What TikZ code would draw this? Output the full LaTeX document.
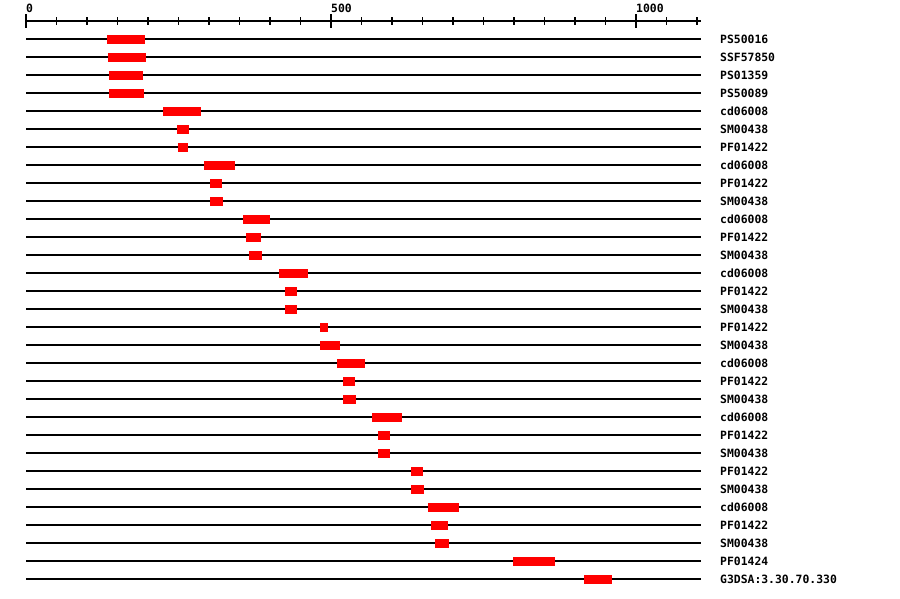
\documentclass[tikz,border=0pt]{standalone}
\usepackage{fontspec}
\newfontfamily\monofnt{DejaVu Sans Mono}
\definecolor{barred}{RGB}{255,0,0}
\begin{document}
\begin{tikzpicture}[x=1pt,y=-1pt,
  rowline/.style={black,line width=1.2pt},
  axisline/.style={black,line width=1.2pt},
  bar/.style={fill=barred,draw=none,rectangle,inner sep=0pt,minimum height=9pt,anchor=west},
  lab/.style={inner sep=0pt,anchor=base west,font=\monofnt\bfseries\fontsize{11.4}{12}\selectfont},
  ticklab/.style={inner sep=0pt,anchor=base west,font=\monofnt\bfseries\fontsize{11.4}{12}\selectfont}]
\useasboundingbox[fill=white] (0,0) rectangle (900,598);
% axis
\coordinate (A0) at (26,21);
\coordinate (A1) at (701,21);
\draw[axisline] (A0) -- (A1);
\foreach \v in {0,50,...,1100}{
  \pgfmathsetmacro{\xx}{26+0.61*\v}
  \ifnum\v=0 \draw[axisline] (\xx,14) -- (\xx,28);
  \else\ifnum\v=500 \draw[axisline] (\xx,14) -- (\xx,28);
  \else\ifnum\v=1000 \draw[axisline] (\xx,14) -- (\xx,28);
  \else \draw[axisline] (\xx,17) -- (\xx,25);
  \fi\fi\fi
}
\node[ticklab] (t0) at (26,12) {0};
\node[ticklab] (t500) at (331,12) {500};
\node[ticklab] (t1000) at (636,12) {1000};
% rows
\foreach \lab/\a/\b [count=\i] in {
  PS50016/107/145, SSF57850/108/146, PS01359/109/143, PS50089/109/144,
  cd06008/163/201, SM00438/177/189, PF01422/178/188, cd06008/204/235,
  PF01422/210/222, SM00438/210/223, cd06008/243/270, PF01422/246/261,
  SM00438/249/262, cd06008/279/308, PF01422/285/297, SM00438/285/297,
  PF01422/320/328, SM00438/320/340, cd06008/337/365, PF01422/343/355,
  SM00438/343/356, cd06008/372/402, PF01422/378/390, SM00438/378/390,
  PF01422/411/423, SM00438/411/424, cd06008/428/459, PF01422/431/448,
  SM00438/435/449, PF01424/513/555, G3DSA:3.30.70.330/584/612}{
  \pgfmathsetmacro{\yy}{39+18*(\i-1)}
  \pgfmathsetmacro{\ww}{\b-\a}
  \coordinate (L\i) at (26,\yy);
  \coordinate (R\i) at (701,\yy);
  \draw[rowline] (L\i) -- (R\i);
  \node[bar,minimum width=\ww pt] (B\i) at (\a,\yy) {};
  \node[lab] (T\i) at (720,\yy+4) {\lab};
}
\end{tikzpicture}
\end{document}
